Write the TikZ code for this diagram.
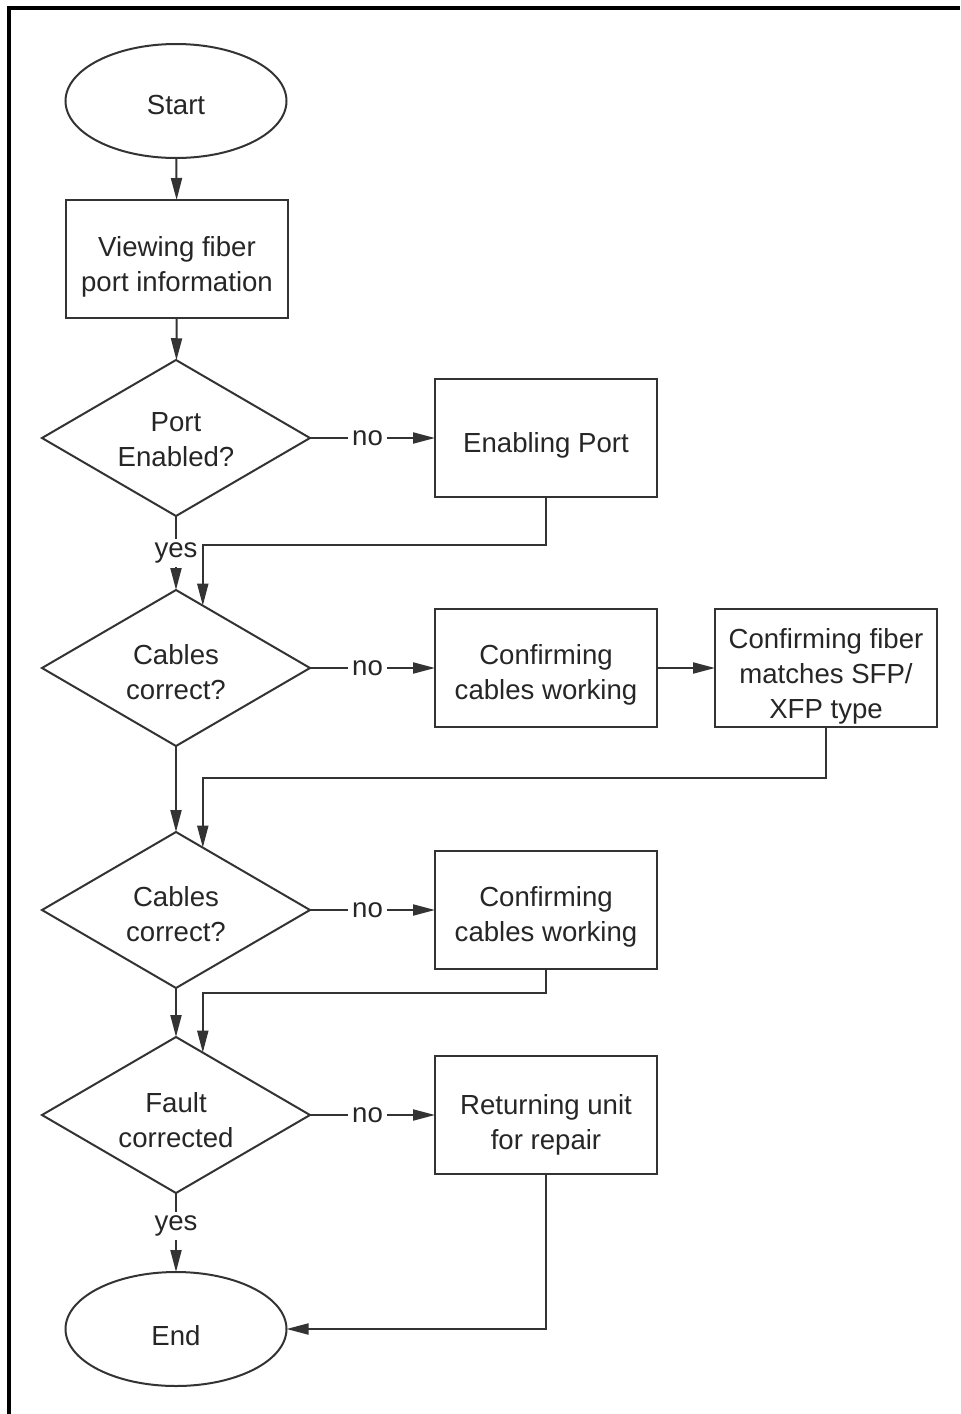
\documentclass[tikz,border=0pt]{standalone}
\usepackage{fontspec}
\setmainfont{Liberation Sans}
\usetikzlibrary{shapes.geometric,arrows.meta,calc}
\newcommand\dnt[2]{\raisebox{-#1}[\height][\depth]{\begin{tabular}{@{}c@{}}#2\end{tabular}}}
\begin{document}
\begin{tikzpicture}[x=0.5pt,y=-0.5pt,
  base/.style={draw=black!80,line width=1pt,text=black!85,
    font=\fontsize{13.8}{17.5}\selectfont,inner sep=0pt,outer sep=0pt},
  term/.style={base,ellipse,minimum width=110.5pt,minimum height=57pt},
  procbox/.style={base,rectangle,minimum width=111pt,minimum height=59pt},
  decision/.style={base,diamond,aspect=1.72,minimum width=134pt,minimum height=78pt},
  conn/.style={draw=black!80,line width=1pt},
  arr/.style={conn,-{Triangle[length=11pt,width=5.5pt]}},
  lbl/.style={fill=white,text=black!85,font=\fontsize{13.8}{16}\selectfont,inner sep=2pt}]
\useasboundingbox (0,0) rectangle (960,1414);
\draw[line width=2pt] (8.5,1414) -- (8.5,7.5) -- (960,7.5);

\node[term] (start) at (176,101) {\dnt{3pt}{Start}};
\node[procbox] (view) at (177,259) {\dnt{4pt}{Viewing fiber\\port information}};
\node[decision] (d1) at (176,438) {\dnt{2pt}{Port\\Enabled?}};
\node[procbox] (enab) at (546,438) {\dnt{3.5pt}{Enabling Port}};
\node[decision] (d2) at (176,668) {\dnt{3.5pt}{Cables\\correct?}};
\node[procbox] (conf1) at (546,668) {\dnt{3.5pt}{Confirming\\cables working}};
\node[procbox] (fib) at (826,668) {\dnt{4pt}{Confirming fiber\\matches SFP/\\XFP type}};
\node[decision] (d3) at (176,910) {\dnt{3.5pt}{Cables\\correct?}};
\node[procbox] (conf2) at (546,910) {\dnt{3.5pt}{Confirming\\cables working}};
\node[decision] (d4) at (176,1115) {\dnt{4pt}{Fault\\corrected}};
\node[procbox] (ret) at (546,1115) {\dnt{5pt}{Returning unit\\for repair}};
\node[term] (end) at (176,1329) {\dnt{4.5pt}{End}};

\coordinate (d2in) at ($(d2.north)!0.2!(d2.east)$);
\coordinate (d3in) at ($(d3.north)!0.2!(d3.east)$);
\coordinate (d4in) at ($(d4.north)!0.2!(d4.east)$);

\draw[arr] (start) -- (view);
\draw[arr] (view) -- (d1);
\draw[arr] (d1.east) -- node[lbl,pos=0.46] {no} (enab.west);
\draw[arr] (d1.south) -- node[lbl,pos=0.5] {yes} (d2.north);
\draw[arr] (enab.south) |- (d2in |- 0,545) -- (d2in);
\draw[arr] (d2.east) -- node[lbl,pos=0.46] {no} (conf1.west);
\draw[arr] (conf1.east) -- (fib.west);
\draw[arr] (fib.south) |- (d3in |- 0,778) -- (d3in);
\draw[arr] (d2.south) -- (d3.north);
\draw[arr] (d3.east) -- node[lbl,pos=0.46] {no} (conf2.west);
\draw[arr] (conf2.south) |- (d4in |- 0,993) -- (d4in);
\draw[arr] (d3.south) -- (d4.north);
\draw[arr] (d4.east) -- node[lbl,pos=0.46] {no} (ret.west);
\draw[arr] (d4.south) -- node[lbl,pos=0.42] {yes} (end.north);
\draw[arr] (ret.south) |- (end.east);
\end{tikzpicture}
\end{document}
